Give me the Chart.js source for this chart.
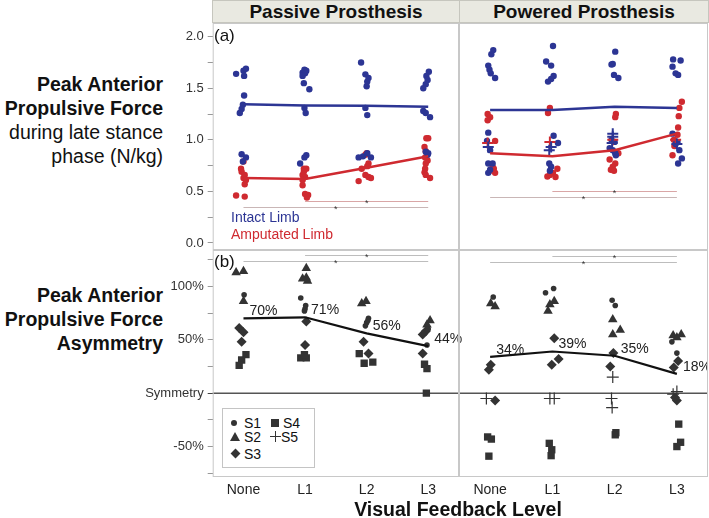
<!DOCTYPE html>
<html>
<head>
<meta charset="utf-8">
<script src="https://cdn.jsdelivr.net/npm/chart.js@4/dist/chart.umd.min.js"></script>
<style>
body{margin:0;width:709px;height:518px;background:#fff;position:relative;overflow:hidden;font-family:"Liberation Sans",Arial,sans-serif;color:#111}
.abs{position:absolute}
canvas{position:absolute}
.hdr{top:0;height:23px;background:#e9e9e1;border:1px solid #c6c6be;box-sizing:border-box;font-weight:bold;font-size:19px;line-height:22px;text-align:center}
.ylab{left:0;width:163px;text-align:right;font-size:19.5px;line-height:24px}
.ylab b{font-weight:bold}
.lg{font-size:14px;line-height:18px}
#legB{left:222px;top:408px;width:93px;height:60px;border:1px solid #c4c4c4;background:#fff;box-sizing:border-box}
#legB div{position:absolute;font-size:14px;line-height:16px}
.mk{position:absolute;background:#333}
</style>
</head>
<body>
<div class="abs hdr" style="left:212px;width:248px">Passive Prosthesis</div>
<div class="abs hdr" style="left:459px;width:250px">Powered Prosthesis</div>

<div class="abs ylab" style="top:72px"><b>Peak Anterior<br>Propulsive Force</b><br>during late stance<br>phase (N/kg)</div>
<div class="abs ylab" style="top:283px"><b>Peak Anterior<br>Propulsive Force<br>Asymmetry</b></div>

<canvas id="cA1" width="329" height="227" style="left:130px;top:23px"></canvas>
<canvas id="cB1" width="341" height="250" style="left:130px;top:250px"></canvas>
<canvas id="cA2" width="249" height="227" style="left:459px;top:23px"></canvas>
<canvas id="cB2" width="249" height="250" style="left:459px;top:250px"></canvas>

<div class="abs" style="left:214px;top:26px;font-size:17px">(a)</div>
<div class="abs" style="left:214px;top:252px;font-size:17px">(b)</div>
<div class="abs lg" style="left:231px;top:208px;color:#2c3594">Intact Limb</div>
<div class="abs lg" style="left:231px;top:225px;color:#cf2a30">Amputated Limb</div>

<div class="abs" id="legB">
  <span class="mk" style="left:8px;top:11px;width:6px;height:6px;border-radius:50%"></span>
  <div style="left:21px;top:6px">S1</div>
  <span class="mk" style="left:48px;top:10px;width:8px;height:8px"></span>
  <div style="left:60px;top:6px">S4</div>
  <span class="mk" style="left:7px;top:23px;width:0;height:0;background:none;border-left:5px solid transparent;border-right:5px solid transparent;border-bottom:9px solid #333"></span>
  <div style="left:21px;top:20px">S2</div>
  <span class="mk" style="left:47px;top:27px;width:11px;height:1.3px"></span>
  <span class="mk" style="left:52px;top:22px;width:1.3px;height:11px"></span>
  <div style="left:58px;top:20px">S5</div>
  <span class="mk" style="left:9px;top:41px;width:7px;height:7px;transform:rotate(45deg)"></span>
  <div style="left:21px;top:37px">S3</div>
</div>

<div class="abs" style="left:208px;top:497px;width:500px;text-align:center;font-weight:bold;font-size:19.5px;line-height:24px">Visual Feedback Level</div>

<script>
const levels = ['None', 'L1', 'L2', 'L3'];
const forceTicks = [0, 0.25, 0.5, 0.75, 1, 1.25, 1.5, 1.75, 2];
const forceTickLabels = ['0.0', '', '0.5', '', '1.0', '', '1.5', '', '2.0'];
const asymTicks = [-75, -50, -25, 0, 25, 50, 75, 100, 125];
const asymTickLabels = ['', '-50%', '', 'Symmetry', '', '50%', '', '100%', ''];

// panel (a): [level + jitter, N/kg]
const passiveIntact = [
  [-0.12,1.64],[0,1.67],[0.04,1.69],[0.01,1.62],[0.01,1.43],[-0.01,1.34],[-0.03,1.30],[-0.06,1.26],[-0.03,0.86],[0.04,0.83],[-0.01,0.79],
  [0.99,1.68],[1.02,1.67],[0.96,1.65],[1.0,1.645],[0.96,1.62],[0.98,1.55],[1.07,1.49],[0.99,1.31],[1.01,1.26],[1.02,0.85],[0.99,0.83],[0.92,0.77],
  [1.91,1.75],[1.98,1.635],[2.03,1.60],[2.01,1.565],[2.0,1.52],[1.98,1.31],[2.01,1.24],[1.87,0.83],[1.94,0.84],[2.07,0.83],[2.01,0.87],
  [3.01,1.66],[2.97,1.62],[2.99,1.58],[2.96,1.54],[2.92,1.50],[2.92,1.28],[2.96,1.26],[3.03,1.22],[2.96,0.885],[2.99,0.855],[3.0,0.87]
];
const passiveAmputated = [
  [0,0.79],[-0.03,0.69],[0.02,0.66],[0,0.63],[0.04,0.61],[0.02,0.57],[-0.12,0.46],[0.02,0.45],[-0.04,0.72],
  [0.98,0.72],[1.02,0.72],[0.96,0.66],[1.0,0.64],[0.96,0.61],[0.96,0.56],[1.0,0.475],[1.05,0.465],[1.03,0.44],[0.98,0.69],
  [2.0,0.87],[1.98,0.855],[2.03,0.77],[2.01,0.745],[1.92,0.72],[1.98,0.66],[2.03,0.64],[2.07,0.63],[1.87,0.60],
  [2.97,1.015],[3.0,1.015],[2.94,0.93],[2.96,0.89],[2.95,0.83],[2.99,0.80],[2.96,0.77],[2.95,0.72],[2.94,0.685],[2.96,0.66],[3.03,0.63]
];
const poweredIntact = [
  [0.05,1.87],[0.02,1.83],[-0.03,1.72],[-0.01,1.68],[0.01,1.645],[0.08,1.60],[-0.03,1.07],[-0.05,0.99],[0,0.90],[-0.03,0.77],[0.04,0.77],[-0.03,0.68],[0,0.71],
  [1.01,1.91],[0.90,1.76],[0.98,1.72],[1.02,1.62],[0.98,1.59],[0.93,1.565],[1.02,1.04],[1.09,0.97],[0.95,0.77],[0.98,0.74],[0.96,0.70],
  [2.01,1.855],[1.97,1.735],[1.95,1.73],[1.99,1.63],[2.06,1.60],[1.95,1.0],[2.0,0.98],[1.92,0.92],[1.97,0.90],[2.02,0.85],[2.01,0.87],
  [2.94,1.78],[3.06,1.77],[2.93,1.71],[2.98,1.645],[3.02,1.63],[2.93,1.06],[3.01,0.98],[2.98,0.96],[3.04,0.90],[3.08,0.82],[3.02,0.77]
];
const poweredAmputated = [
  [-0.04,1.25],[0,1.22],[-0.04,1.19],[0.08,0.99],[0.04,0.74],[0.06,0.72],[0.08,0.68],[0,0.70],
  [0.96,1.31],[0.93,1.26],[1.08,0.72],[1.01,0.68],[0.92,0.645],[1.05,0.64],[0.96,0.66],
  [2.02,1.25],[2.01,1.22],[2.06,0.87],[1.92,0.81],[2.01,0.77],[1.97,0.74],[1.94,0.71],[1.99,0.70],
  [3.08,1.37],[3.04,1.31],[3.03,1.23],[3.02,1.12],[3.01,1.05],[2.95,1.0],[2.93,0.85],[2.96,0.94]
];
const poweredIntactS5 = [[-0.03,0.93],[0.98,0.93],[0.95,0.90],[1.97,1.06],[1.97,1.03],[1.96,0.97],[3.0,0.96]];
const poweredAmputatedS5 = [[-0.04,0.97],[0.96,0.98],[1.97,1.0],[2.98,1.0]];

const passiveIntactMean = [1.345, 1.333, 1.33, 1.32];
const passiveAmputatedMean = [0.63, 0.62, 0.73, 0.84];
const poweredIntactMean = [1.29, 1.29, 1.32, 1.31];
const poweredAmputatedMean = [0.87, 0.84, 0.90, 1.06];

// panel (b): [level + jitter, asymmetry %]
const passiveS1 = [[0.01,92],[0.93,89],[1.01,82],[1.0,79],[0.99,77],[2.03,70],[2.0,66],[1.98,63],[2.02,68],[2.98,45],[3.0,60]];
const passiveS2 = [[-0.12,113],[0,114],[0,86],[1.02,117],[1.02,108],[0.96,107],[1.04,105],[1.92,84],[1.99,86],[3.03,68],[2.98,64]];
const passiveS3 = [[-0.07,61],[0,57],[-0.03,48],[1.02,67],[1.0,45],[1.95,48],[2.03,37],[2.96,58],[2.91,55],[2.91,37]];
const passiveS4 = [[0.04,36],[-0.03,31],[-0.07,26],[0.93,33],[1.02,33],[0.99,36],[1.88,37],[1.96,28],[2.1,29],[2.94,27],[2.98,23],[2.97,0]];
const poweredS1 = [[0.05,90],[1.02,98],[0.89,94],[1.96,87],[2.01,82],[2.92,48],[3.0,37.5]];
const poweredS2 = [[0.01,84],[0.08,81],[1.03,86],[0.96,83],[0.93,77],[1.97,69],[2.09,59],[1.97,55],[3.07,55],[2.94,54],[3.0,52]];
const poweredS3 = [[0.01,26.5],[-0.02,22],[0.08,-7],[1.03,51.5],[1.1,32],[0.99,26.5],[1.98,37.5],[1.93,25],[3.02,30],[2.95,24],[3.0,-7],[2.97,-4]];
const poweredS4 = [[-0.04,-41],[0.02,-43],[-0.02,-59],[0.95,-47],[0.99,-53],[0.98,-58.5],[2.02,-37],[2.01,-39],[3.03,-29],[3.06,-46],[3.0,-50]];
const poweredS5 = [[-0.06,-5],[0.96,-5],[1.03,-5],[1.97,15],[1.95,-5],[1.96,-13.5],[3.0,1.5],[2.94,-1]];

const passiveAsymMean = [70, 71, 56, 44];
const poweredAsymMean = [34, 39, 35, 18];

// significance bars: [from level, to level, height]
const passiveForceSig = [[1, 3, 0.41], [0, 3, 0.345]];
const poweredForceSig = [[1, 3, 0.505], [0, 3, 0.445]];
const passiveAsymSig = [[1, 3, 129.5], [0, 3, 123.5]];
const poweredAsymSig = [[1, 3, 128.5], [0, 3, 123]];

const BLUE = '#2c3594', RED = '#cf2a30', DARK = '#333';
const FONT = '"Liberation Sans", Arial, sans-serif';

const decor = {
	id: 'decor',
	beforeDatasetsDraw(chart, args, o) {
		const {ctx, chartArea: a, scales: {x, y}} = chart;
		ctx.save();
		if (o.symmetry) {
			const py = y.getPixelForValue(0);
			ctx.strokeStyle = '#555';
			ctx.lineWidth = 1.5;
			ctx.beginPath();
			ctx.moveTo(a.left, py);
			ctx.lineTo(a.right, py);
			ctx.stroke();
		}
		(o.sig || []).forEach((s, i) => {
			const py = Math.round(y.getPixelForValue(s[2])) + 0.5;
			ctx.strokeStyle = o.sigColors[i];
			ctx.lineWidth = 1.2;
			ctx.beginPath();
			ctx.moveTo(x.getPixelForValue(s[0]), py);
			ctx.lineTo(x.getPixelForValue(s[1]), py);
			ctx.stroke();
			ctx.fillStyle = DARK;
			ctx.font = '9px ' + FONT;
			ctx.textAlign = 'center';
			ctx.textBaseline = 'alphabetic';
			ctx.fillText('*', x.getPixelForValue((s[0] + s[1]) / 2), py + 4);
		});
		ctx.restore();
	},
	afterDatasetsDraw(chart, args, o) {
		const {ctx, scales: {x, y}} = chart;
		if (!o.means) return;
		ctx.save();
		ctx.fillStyle = '#222';
		ctx.font = '14px ' + FONT;
		ctx.textAlign = 'left';
		ctx.textBaseline = 'middle';
		o.means.forEach((v, i) => {
			ctx.fillText(v + '%', x.getPixelForValue(i) + 6, y.getPixelForValue(v) - 7);
		});
		ctx.restore();
	},
	afterDraw(chart) {
		const {ctx, chartArea: a} = chart;
		ctx.save();
		ctx.strokeStyle = '#c8c8c8';
		ctx.lineWidth = 1;
		ctx.strokeRect(a.left + 0.5, a.top + 0.5, a.right - a.left - 1, a.bottom - a.top - 1);
		ctx.restore();
	}
};

function meanLine(means, color, width) {
	return {
		data: means.map((m, i) => [i, m]),
		showLine: true, borderColor: color, borderWidth: width,
		pointRadius: 0, order: 0
	};
}

function dots(data, color, style, radius, order, bw) {
	return {
		data: data, pointStyle: style, pointRadius: radius,
		backgroundColor: color, borderColor: color, borderWidth: bw || 0,
		order: order
	};
}

function makeChart(id, datasets, o) {
	const yticks = o.force ? forceTicks : asymTicks;
	const ylabels = o.force ? forceTickLabels : asymTickLabels;
	return new Chart(document.getElementById(id), {
		type: 'scatter',
		data: {datasets: datasets},
		options: {
			responsive: false,
			animation: false,
			events: [],
			layout: {padding: {right: o.padRight || 0}, autoPadding: false},
			plugins: {legend: {display: false}, tooltip: {enabled: false}, decor: o.decor},
			scales: {
				x: {
					type: 'linear', min: -0.5, max: 3.5, display: o.showX,
					grid: {display: false, drawTicks: false}, border: {display: false},
					afterBuildTicks: s => { s.ticks = levels.map((_, i) => ({value: i})); },
					ticks: {callback: v => levels[v], font: {size: 14, family: FONT}, color: '#222', padding: 5, maxRotation: 0, autoSkip: false},
					afterFit: s => { s.height = o.showX ? 23 : 0; s.paddingLeft = 0; s.paddingRight = 0; }
				},
				y: {
					type: 'linear', min: o.force ? -0.068 : -78.5, max: o.force ? 2.133 : 134,
					display: o.showY,
					grid: {display: true, drawOnChartArea: false, drawTicks: true, tickLength: 5,
						color: c => (!o.force && c.tick && c.tick.value === 0) ? '#444' : '#999'},
					border: {display: false},
					afterBuildTicks: s => { s.ticks = yticks.map(v => ({value: v})); },
					ticks: {callback: (v, i) => ylabels[i], font: {size: 13, family: FONT}, color: '#333', padding: 4, autoSkip: false},
					afterFit: s => { s.width = o.showY ? 82.7 : 0; s.paddingTop = 0; s.paddingBottom = 0; }
				}
			}
		},
		plugins: [decor]
	});
}

const forceSigColors = ['#d9a6a6', '#c9b6b6'];
const asymSigColors = ['#bdbdbd', '#bdbdbd'];

makeChart('cA1', [
	meanLine(passiveIntactMean, BLUE, 2.5),
	meanLine(passiveAmputatedMean, RED, 2.5),
	dots(passiveIntact, BLUE, 'circle', 3.2, 2),
	dots(passiveAmputated, RED, 'circle', 3.2, 3)
], {force: true, showX: false, showY: true, decor: {sig: passiveForceSig, sigColors: forceSigColors}});

makeChart('cB1', [
	meanLine(passiveAsymMean, '#111', 2.2),
	dots(passiveS1, DARK, 'circle', 2.8, 2),
	dots(passiveS2, DARK, 'triangle', 5.5, 2),
	dots(passiveS3, DARK, 'rectRot', 5, 2),
	dots(passiveS4, DARK, 'rect', 5.2, 2)
], {force: false, showX: true, showY: true, padRight: 12, decor: {sig: passiveAsymSig, sigColors: asymSigColors, means: passiveAsymMean, symmetry: true}});

makeChart('cA2', [
	meanLine(poweredIntactMean, BLUE, 2.5),
	meanLine(poweredAmputatedMean, RED, 2.5),
	dots(poweredIntactS5, BLUE, 'cross', 5.5, 1, 2),
	dots(poweredAmputatedS5, RED, 'cross', 5.5, 1, 2),
	dots(poweredIntact, BLUE, 'circle', 3.2, 2),
	dots(poweredAmputated, RED, 'circle', 3.2, 3)
], {force: true, showX: false, showY: false, decor: {sig: poweredForceSig, sigColors: forceSigColors}});

makeChart('cB2', [
	meanLine(poweredAsymMean, '#111', 2.2),
	dots(poweredS1, DARK, 'circle', 2.8, 2),
	dots(poweredS2, DARK, 'triangle', 5.5, 2),
	dots(poweredS3, DARK, 'rectRot', 5, 2),
	dots(poweredS4, DARK, 'rect', 5.2, 2),
	dots(poweredS5, DARK, 'cross', 6, 2, 1.2)
], {force: false, showX: true, showY: false, decor: {sig: poweredAsymSig, sigColors: asymSigColors, means: poweredAsymMean, symmetry: true}});
</script>
</body>
</html>
